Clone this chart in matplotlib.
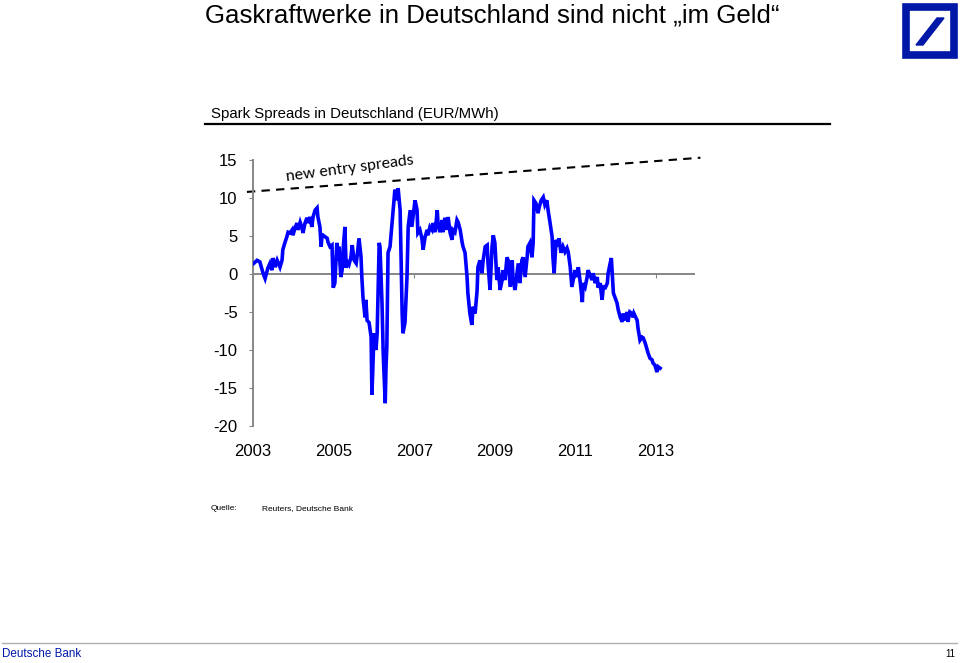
import matplotlib
matplotlib.use("Agg")
import matplotlib.pyplot as plt
from matplotlib.patches import Rectangle, Polygon
from matplotlib.lines import Line2D

plt.rcParams['font.family'] = ['Liberation Sans', 'DejaVu Sans']

# spark spread, decimal year vs EUR/MWh
years = [2003.02, 2003.10, 2003.17, 2003.25, 2003.30, 2003.37, 2003.42, 2003.47, 2003.50, 2003.55,
         2003.60, 2003.67, 2003.72, 2003.74, 2003.79, 2003.84, 2003.87, 2003.92, 2003.97, 2003.99,
         2004.04, 2004.09, 2004.12, 2004.17, 2004.22, 2004.24, 2004.29, 2004.34, 2004.36, 2004.41,
         2004.46, 2004.49, 2004.54, 2004.59, 2004.61, 2004.66, 2004.69, 2004.71, 2004.74, 2004.84,
         2004.86, 2004.91, 2004.96, 2004.99, 2005.03, 2005.08, 2005.11, 2005.13, 2005.18, 2005.21,
         2005.23, 2005.28, 2005.31, 2005.33, 2005.38, 2005.43, 2005.46, 2005.51, 2005.56, 2005.58,
         2005.63, 2005.68, 2005.70, 2005.73, 2005.78, 2005.80, 2005.83, 2005.88, 2005.93, 2005.95,
         2005.98, 2006.00, 2006.05, 2006.08, 2006.13, 2006.15, 2006.20, 2006.23, 2006.28, 2006.30,
         2006.32, 2006.35, 2006.40, 2006.45, 2006.47, 2006.52, 2006.57, 2006.60, 2006.65, 2006.70,
         2006.72, 2006.77, 2006.82, 2006.85, 2006.90, 2006.94, 2007.02, 2007.07, 2007.09, 2007.14,
         2007.19, 2007.22, 2007.27, 2007.32, 2007.34, 2007.39, 2007.44, 2007.47, 2007.52, 2007.57,
         2007.59, 2007.64, 2007.69, 2007.71, 2007.76, 2007.81, 2007.84, 2007.89, 2007.94, 2007.96,
         2008.01, 2008.06, 2008.09, 2008.14, 2008.19, 2008.21, 2008.26, 2008.31, 2008.33, 2008.38,
         2008.43, 2008.46, 2008.51, 2008.56, 2008.58, 2008.63, 2008.68, 2008.71, 2008.76, 2008.81,
         2008.83, 2008.88, 2008.93, 2008.96, 2009.00, 2009.05, 2009.08, 2009.13, 2009.18, 2009.20,
         2009.25, 2009.30, 2009.33, 2009.38, 2009.43, 2009.45, 2009.50, 2009.55, 2009.58, 2009.62,
         2009.67, 2009.70, 2009.75, 2009.80, 2009.82, 2009.87, 2009.92, 2009.95, 2009.97, 2010.02,
         2010.07, 2010.10, 2010.15, 2010.20, 2010.24, 2010.29, 2010.32, 2010.37, 2010.42, 2010.44,
         2010.47, 2010.52, 2010.57, 2010.59, 2010.64, 2010.69, 2010.74, 2010.79, 2010.82, 2010.87,
         2010.91, 2010.99, 2011.04, 2011.07, 2011.12, 2011.17, 2011.19, 2011.24, 2011.29, 2011.31,
         2011.36, 2011.41, 2011.44, 2011.49, 2011.54, 2011.56, 2011.61, 2011.66, 2011.69, 2011.74,
         2011.79, 2011.81, 2011.86, 2011.89, 2011.94, 2011.96, 2012.03, 2012.06, 2012.11, 2012.16,
         2012.18, 2012.23, 2012.28, 2012.30, 2012.35, 2012.40, 2012.43, 2012.45, 2012.53, 2012.55,
         2012.60, 2012.65, 2012.68, 2012.73, 2012.78, 2012.80, 2012.85, 2012.90, 2012.92, 2012.97,
         2013.02, 2013.05, 2013.10]
spread = [1.4, 1.8, 1.6, 0.1, -0.6, 0.8, 1.4, 0.5, 2.1, 0.9,
          1.8, 0.9, 1.8, 3.2, 4.1, 4.9, 5.5, 5.4, 5.8, 5.1,
          6.0, 6.7, 5.8, 6.8, 6.0, 5.4, 6.7, 7.4, 6.7, 7.5,
          6.2, 7.5, 8.4, 8.7, 7.5, 6.2, 3.6, 4.9, 5.1, 4.7,
          4.2, 3.6, 3.8, -1.8, -1.2, 4.1, 1.8, 3.6, -0.4, 0.5,
          2.8, 6.2, 0.8, 1.6, 1.2, 2.2, 3.8, 1.8, 1.4, 2.2,
          4.7, 2.2, -0.4, -3.2, -5.7, -3.4, -6.1, -6.4, -8.3, -15.9,
          -11.3, -7.8, -10.0, -7.8, 4.1, 3.6, -3.8, -10.4, -17.0, -12.2,
          -9.6, 2.8, 3.6, 6.7, 8.0, 11.1, 9.7, 11.3, 8.4, -5.2,
          -7.8, -6.4, -0.4, 6.2, 8.4, 6.2, 9.7, 8.4, 5.4, 5.8,
          4.7, 3.2, 4.9, 5.8, 5.1, 6.2, 5.8, 6.7, 5.5, 8.4,
          6.7, 5.5, 7.1, 5.5, 7.4, 5.8, 7.5, 5.4, 4.5, 5.8,
          5.5, 7.1, 6.8, 5.8, 4.1, 3.6, 2.8, -0.4, -2.5, -5.2,
          -6.7, -4.3, -5.2, -2.1, 0.9, 1.8, 0.1, 1.8, 3.6, 3.8,
          1.4, -2.1, 3.6, 5.1, 4.1, -0.8, 0.9, -2.1, -0.8, 0.5,
          -0.8, 2.2, 1.8, -1.7, 1.8, -0.8, -2.1, 0.1, 1.4, -1.2,
          1.8, 2.2, -0.4, 2.2, 3.6, 4.1, 2.2, 4.1, 9.7, 9.3,
          8.0, 8.8, 9.7, 10.1, 9.1, 9.7, 8.4, 6.7, 4.9, 2.2,
          0.1, 4.5, 3.6, 4.7, 2.8, 3.6, 2.9, 3.4, 2.9, 0.9,
          -1.7, 0.5, -0.4, 0.9, -1.2, -3.7, -1.2, -1.7, -0.4, 0.5,
          -0.1, -0.8, 0.1, -1.2, -0.4, -1.8, -1.2, -3.4, -1.7, -1.8,
          -1.2, 0.1, 1.4, 2.1, -2.5, -2.8, -3.8, -4.7, -5.7, -6.3,
          -5.2, -6.1, -5.0, -6.3, -5.0, -5.2, -5.7, -5.2, -6.1, -7.1,
          -8.7, -8.3, -8.4, -9.1, -10.0, -10.4, -11.1, -11.3, -11.7, -12.0,
          -12.9, -12.2, -12.4]

# "new entry spreads" reference line (ends)
entry_years = [2002.85, 2014.1]
entry_level = [10.8, 15.3]

year_ticks = [2003, 2005, 2007, 2009, 2011, 2013]
value_ticks = [15, 10, 5, 0, -5, -10, -15, -20]

db_blue = '#0018A8'
grey = '#868686'

fig = plt.figure(figsize=(9.6, 6.63), dpi=100)

# header
fig.text(205 / 960, 1 - 16 / 663, 'Gaskraftwerke in Deutschland sind nicht \u201eim Geld\u201c',
         fontsize=18.6, va='center', ha='left', color='black')
fig.text(211 / 960, 1 - 114 / 663, 'Spark Spreads in Deutschland (EUR/MWh)',
         fontsize=10.8, va='center', ha='left')
fig.add_artist(Line2D([205 / 960, 830 / 960], [1 - 124 / 663, 1 - 124 / 663],
                      color='black', lw=1.6))

# logo
fig.add_artist(Rectangle((906 / 960, 1 - 55 / 663), 48 / 960, 48 / 663,
                         fill=False, ec=db_blue, lw=5.5))
fig.add_artist(Polygon([(916 / 960, 1 - 45 / 663), (923 / 960, 1 - 45 / 663),
                        (944 / 960, 1 - 18 / 663), (937 / 960, 1 - 18 / 663)],
                       closed=True, color=db_blue))

ax = fig.add_axes([253 / 960, 1 - 426 / 663, 441 / 960, 266 / 663])
ax.plot(years, spread, color='#0000FF', lw=2.6, solid_joinstyle='miter', zorder=3)
ax.plot(entry_years, entry_level, color='black', lw=1.5, ls=(0, (4, 3)), clip_on=False)
ax.text(2003.8, 11.85, 'new entry spreads', family=['Lato', 'DejaVu Sans'], fontsize=11.4,
        rotation=7.5, ha='left', va='bottom')

ax.set_xlim(2003, 2013.94)
ax.set_ylim(-20, 15)
ax.set_yticks(value_ticks)
ax.set_yticklabels([str(v) for v in value_ticks])
for s in ['top', 'right']:
    ax.spines[s].set_visible(False)
ax.spines['left'].set_color(grey)
ax.spines['left'].set_linewidth(1.4)
ax.spines['bottom'].set_position(('data', 0))
ax.spines['bottom'].set_color(grey)
ax.spines['bottom'].set_linewidth(1.4)
ax.spines['bottom'].set_zorder(1)
ax.set_xticks(year_ticks)
ax.tick_params(axis='x', direction='out', length=3, color=grey, labelbottom=False)
ax.tick_params(axis='y', direction='out', length=3, color=grey, labelsize=12, pad=8)

sec = ax.secondary_xaxis('bottom')
sec.set_xticks(year_ticks)
sec.set_xticklabels([str(y) for y in year_ticks])
sec.tick_params(length=0, labelsize=12, pad=13)
sec.spines['bottom'].set_visible(False)

# source and footer
fig.text(211 / 960, 1 - 509 / 663, 'Quelle:', fontsize=6, va='center')
fig.text(262 / 960, 1 - 509 / 663, 'Reuters, Deutsche Bank', fontsize=6, va='center')
fig.add_artist(Line2D([2 / 960, 957 / 960], [1 - 643 / 663, 1 - 643 / 663],
                      color='#B0B0B0', lw=1))
fig.text(2 / 960, 1 - 654 / 663, 'Deutsche Bank', fontsize=8.4, va='center', color=db_blue)
fig.text(955 / 960, 1 - 654 / 663, '11', fontsize=7, va='center', ha='right')

fig.savefig('out.png', dpi=100)
